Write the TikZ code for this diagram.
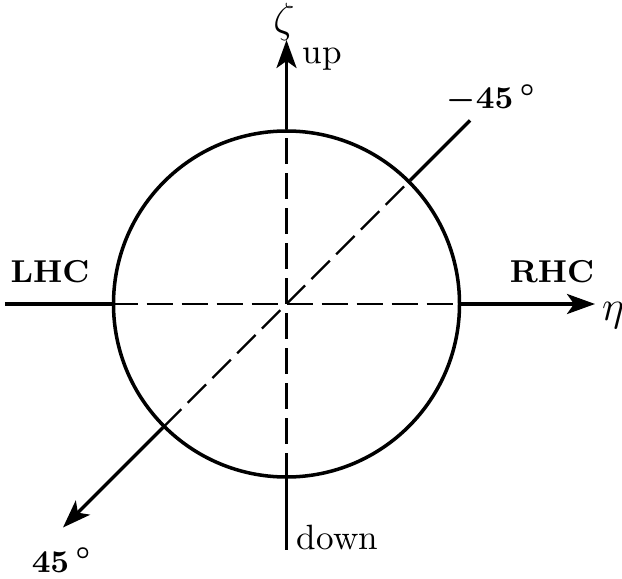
\documentclass[tikz,border=0pt]{standalone}
\usetikzlibrary{arrows.meta}
\begin{document}
\begin{tikzpicture}[x=1cm,y=1cm,>={Stealth[length=.28cm,width=.2cm,inset=.07cm]}]
\tikzset{
  axis/.style={draw=black, line width=1pt},
  guide/.style={draw=black, line width=.7pt, dash pattern=on .26cm off .09cm},
  tag/.style={font=\fontsize{9}{10}\selectfont\bfseries\boldmath},
  word/.style={font=\normalsize}
}
\useasboundingbox (-2.865,-2.74) rectangle (3.355,3.04);

\node[circle, axis, minimum size=3.46cm, inner sep=0pt] (disc) at (0,0) {};

\coordinate (west) at (-2.815,0);
\coordinate (east) at (3.085,0);
\coordinate (north) at (0,2.64);
\coordinate (south) at (0,-2.46);
\coordinate (ne) at (1.835,1.835);
\coordinate (sw) at (-2.235,-2.235);

% solid parts outside the circle
\draw[axis] (west) -- (disc.west);
\draw[axis,->] (disc.east) -- (east);
\draw[axis,->] (disc.north) -- (north);
\draw[axis] (disc.south) -- (south);
\draw[axis] (disc.north east) -- (ne);
\draw[axis,->] (disc.south west) -- (sw);

% dashed parts inside
\draw[guide] (disc.west) -- (disc.east);
\draw[guide] (disc.south) -- (disc.north);
\draw[guide] (disc.south west) -- (disc.north east);

\node[font=\large] (zeta) at (-.025,2.82) {$\zeta$};
\node[font=\large] (eta) at (3.265,-.12) {$\eta$};
\node[word] (up) at (.355,2.45) {up};
\node[word,anchor=west] (down) at (-.02,-2.33) {down};
\node[tag] (lhc) at (-2.365,.32) {LHC};
\node[tag] (rhc) at (2.655,.32) {RHC};
\node[tag] (minus45) at (2.05,2.05) {$-45\,^{\circ}$};
\node[tag] (plus45) at (-2.245,-2.56) {$45\,^{\circ}$};
\end{tikzpicture}
\end{document}
